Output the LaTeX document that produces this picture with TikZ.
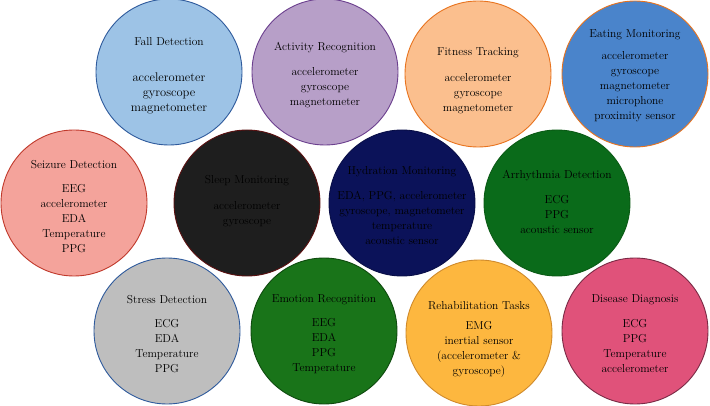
\documentclass[tikz,border=0pt]{standalone}
\usepackage{tikz}
\usetikzlibrary{positioning}

\definecolor{fallfill}{HTML}{9DC3E6}
\definecolor{falldraw}{HTML}{2E5A9C}
\definecolor{actfill}{HTML}{B79FC8}
\definecolor{actdraw}{HTML}{6B3F8E}
\definecolor{fitfill}{HTML}{FBBF8E}
\definecolor{orangedraw}{HTML}{E8731E}
\definecolor{eatfill}{HTML}{4A84CB}
\definecolor{seizfill}{HTML}{F4A39B}
\definecolor{seizdraw}{HTML}{C0392B}
\definecolor{sleepfill}{HTML}{1E1E1E}
\definecolor{sleepdraw}{HTML}{5A1010}
\definecolor{hydfill}{HTML}{0B1259}
\definecolor{arrfill}{HTML}{0A6B1A}
\definecolor{arrdraw}{HTML}{0A5A15}
\definecolor{strfill}{HTML}{BEBEBE}
\definecolor{emofill}{HTML}{197419}
\definecolor{emodraw}{HTML}{0E4A0E}
\definecolor{rehfill}{HTML}{FDB73F}
\definecolor{rehdraw}{HTML}{D08A2A}
\definecolor{disfill}{HTML}{E0527A}
\definecolor{disdraw}{HTML}{7A2A45}

\begin{document}
\begin{tikzpicture}[x=1pt, y=-1pt,
  task/.style={circle, minimum size=146pt, inner sep=0pt, line width=0.9pt},
  tasktitle/.style={font=\fontsize{11.5}{15}\selectfont, inner sep=0pt},
  sensors/.style={font=\fontsize{11.5}{15}\selectfont, align=center, inner sep=0pt}]
\useasboundingbox (0,0) rectangle (710,406);

% top row
\node[task, fill=fallfill, draw=falldraw] (fall) at (169,72) {};
\node[tasktitle] (fall-t) at (169,42) {Fall Detection};
\node[sensors, font=\fontsize{12.5}{15}\selectfont] (fall-s) at (169,93.5) {accelerometer\\gyroscope\\magnetometer};

\node[task, fill=actfill, draw=actdraw] (act) at (325,72) {};
\node[tasktitle] (act-t) at (325,48) {Activity Recognition};
\node[sensors] (act-s) at (325,88) {accelerometer\\gyroscope\\magnetometer};

\node[task, fill=fitfill, draw=orangedraw] (fit) at (478,74) {};
\node[tasktitle] (fit-t) at (478,53) {Fitness Tracking};
\node[sensors] (fit-s) at (478,93.5) {accelerometer\\gyroscope\\magnetometer};

\node[task, fill=eatfill, draw=orangedraw] (eat) at (635,74) {};
\node[tasktitle] (eat-t) at (635,35) {Eating Monitoring};
\node[sensors] (eat-s) at (635,87) {accelerometer\\gyroscope\\magnetometer\\microphone\\proximity sensor};

% middle row
\node[task, fill=seizfill, draw=seizdraw] (seiz) at (74,203) {};
\node[tasktitle] (seiz-t) at (74,165) {Seizure Detection};
\node[sensors] (seiz-s) at (74,218.5) {EEG\\accelerometer\\EDA\\Temperature\\PPG};

\node[task, fill=sleepfill, draw=sleepdraw] (sleep) at (247,203) {};
\node[tasktitle] (sleep-t) at (247,181) {Sleep Monitoring};
\node[sensors] (sleep-s) at (247,214.5) {accelerometer\\gyroscope};

\node[task, fill=hydfill, draw=hydfill!80!black] (hyd) at (402,203) {};
\node[tasktitle] (hyd-t) at (402,172) {Hydration Monitoring};
\node[sensors] (hyd-s) at (402,217.5) {EDA, PPG, accelerometer\\gyroscope, magnetometer\\temperature\\acoustic sensor};

\node[task, fill=arrfill, draw=arrdraw] (arr) at (557,203) {};
\node[tasktitle] (arr-t) at (557,176) {Arrhythmia Detection};
\node[sensors] (arr-s) at (557,215) {ECG\\PPG\\acoustic sensor};

% bottom row
\node[task, fill=strfill, draw=falldraw] (str) at (167,331) {};
\node[tasktitle] (str-t) at (167,300) {Stress Detection};
\node[sensors] (str-s) at (167,346) {ECG\\EDA\\Temperature\\PPG};

\node[task, fill=emofill, draw=emodraw] (emo) at (324,331) {};
\node[tasktitle] (emo-t) at (324,300) {Emotion Recognition};
\node[sensors] (emo-s) at (324,346.5) {EEG\\EDA\\PPG\\Temperature};

\node[task, fill=rehfill, draw=rehdraw] (reh) at (479,333) {};
\node[tasktitle] (reh-t) at (479,306) {Rehabilitation Tasks};
\node[sensors] (reh-s) at (479,349) {EMG\\inertial sensor\\(accelerometer \&\\gyroscope)};

\node[task, fill=disfill, draw=disdraw] (dis) at (635,331) {};
\node[tasktitle] (dis-t) at (635,300) {Disease Diagnosis};
\node[sensors] (dis-s) at (635,346) {ECG\\PPG\\Temperature\\accelerometer};
\end{tikzpicture}
\end{document}
